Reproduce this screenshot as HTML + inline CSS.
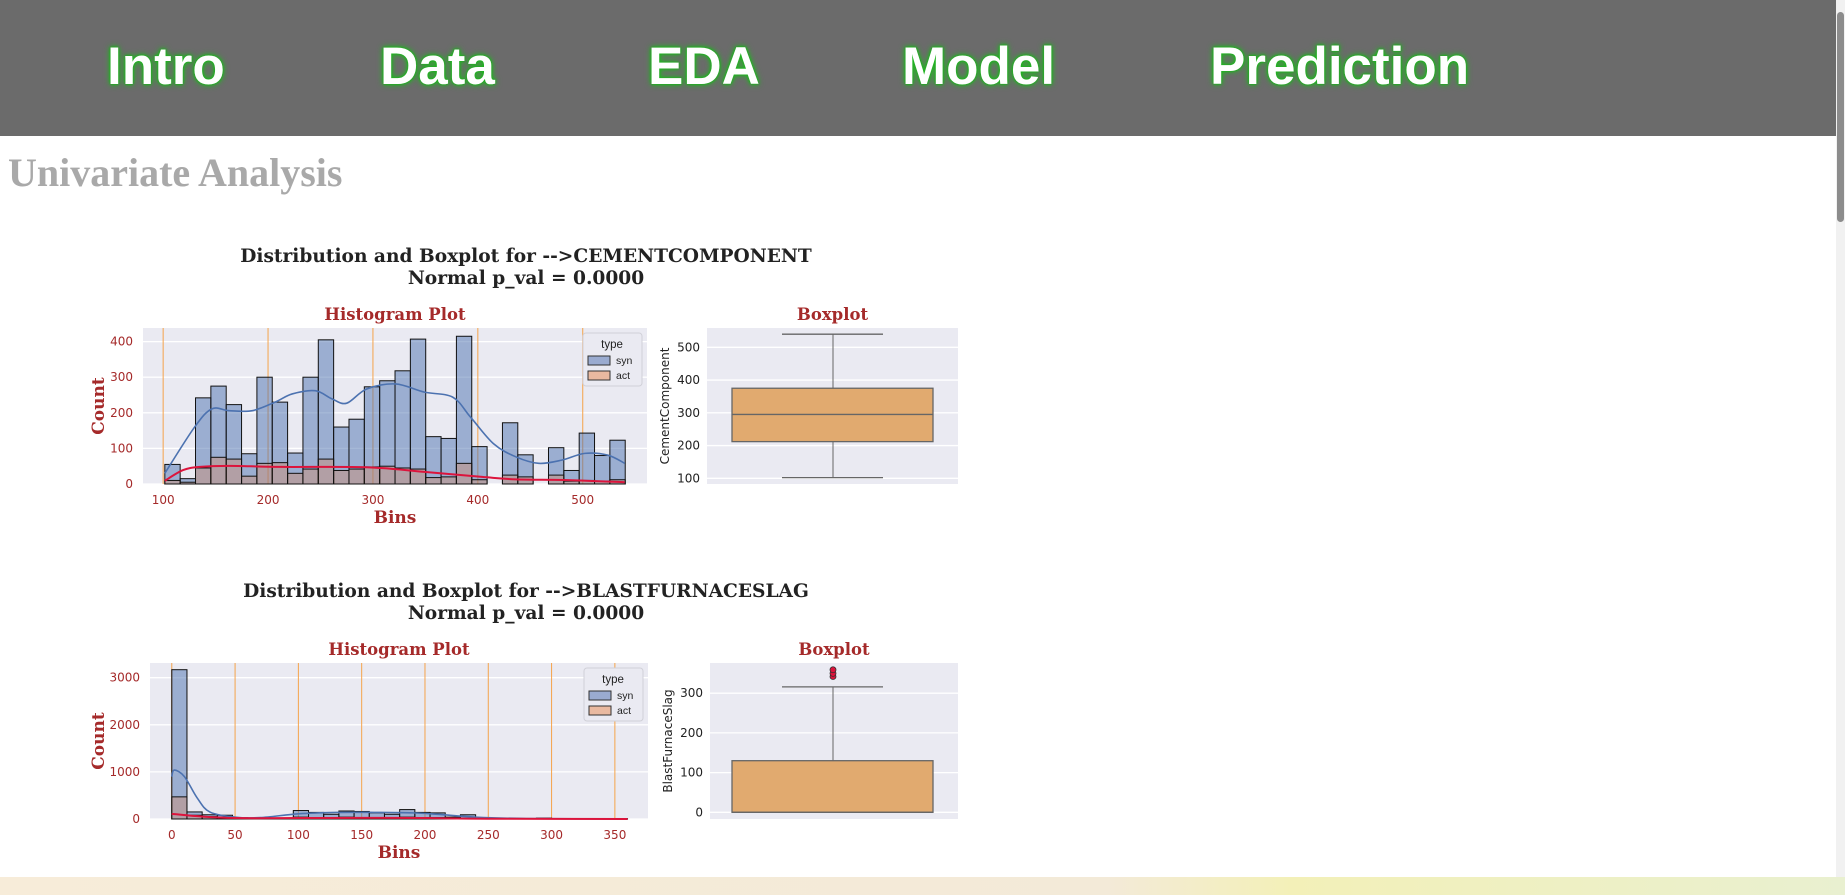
<!DOCTYPE html>
<html><head><meta charset="utf-8"><style>
html,body{margin:0;padding:0;width:1845px;height:895px;overflow:hidden;background:#fff;font-family:"Liberation Sans",sans-serif}
#hdr{position:absolute;left:0;top:0;width:1836px;height:136px;background:#6b6b6b}
.nav{position:absolute;top:36px;font:bold 53px "Liberation Sans",sans-serif;color:#fff;text-shadow:0 0 4px #1db31d,0 0 7px #22c022,0 0 2px #0a0;cursor:pointer}
#title{position:absolute;left:8px;top:149px;font:bold 40px "Liberation Serif",serif;color:#a9a9a9}
#sb{position:absolute;left:1836px;top:0;width:9px;height:877px;background:#f1f1f1}
#bb{position:absolute;left:0;top:877px;width:1845px;height:18px;background:linear-gradient(90deg,#f7ecd9,#f3ead8 60%,#f3f0b8 70%,#e9f0d0)}
svg{position:absolute;left:0;top:0}
</style></head><body>
<div id="hdr">
<span class="nav" style="left:107px">Intro</span>
<span class="nav" style="left:380px">Data</span>
<span class="nav" style="left:648px">EDA</span>
<span class="nav" style="left:902px">Model</span>
<span class="nav" style="left:1210px">Prediction</span>
</div>
<div id="title">Univariate Analysis</div>
<div id="sb"><div style="position:absolute;left:1px;top:12px;width:7px;height:210px;background:#8c8c8c;border-radius:4px"></div></div>
<div id="bb"></div>
<svg id="c" width="1845" height="895"></svg>
<script>
// Chart 1: Cement
const cemBinStart = 101.6, cemBinWidth = 14.63;
const cemSyn = [55,15,242,275,223,85,300,230,87,300,405,160,182,273,290,318,407,133,128,415,105,0,172,82,0,102,38,143,80,123];
const cemAct = [10,5,45,75,70,22,58,60,30,42,70,38,42,48,50,45,42,18,20,58,12,0,25,20,0,25,8,10,8,12];
const cemKdeX = [101.6,130,146.5,163,185,206.7,223,245,261,275,294,321.6,349,376,393,415,436.5,458,480,502,524,540];
const cemKdeSyn = [30,160,211,206,206,230,253,262,239,227,267,281,258,244,188,113,76,58,67,86,81,58];
const cemActX = [101.6,119,135,163,212,294,349,404,436.5,486,540];
const cemKdeAct = [9,39,48,51,48,47,34,20,13,11,5];
const cemXTicks = [100,200,300,400,500];
const cemYTicks = [0,100,200,300,400];
const cemBoxTicks = [100,200,300,400,500];
const cemBox = {q1:212,med:295,q3:375,lo:102,hi:540};
const cemOut = [];
// Chart 2: Slag
const slagBinStart = 0, slagBinWidth = 12.0;
const slagSyn = [3170,150,90,80,30,15,10,20,180,140,100,170,160,130,100,200,140,130,40,90,10,5,5,5,20,5,5,0,0,5];
const slagAct = [470,80,50,40,20,10,5,10,40,30,30,40,30,30,20,40,30,30,10,15,0,0,0,0,5,0,0,0,0,0];
const slagKdeX = [0,2,10,20,30,50,70,100,130,160,190,210,240,280,360];
const slagKdeSyn = [900,1040,900,450,150,40,30,110,140,140,130,100,40,10,0];
const slagActX = [0,20,50,100,150,200,250,360];
const slagKdeAct = [110,60,20,20,25,20,5,0];
const slagXTicks = [0,50,100,150,200,250,300,350];
const slagYTicks = [0,1000,2000,3000];
const slagBoxTicks = [0,100,200,300];
const slagBox = {q1:0,med:0,q3:130,lo:0,hi:316};
const slagOut = [342,350,359];

const NS='http://www.w3.org/2000/svg', svg=document.getElementById('c');
function mk(t,a,p){const e=document.createElementNS(NS,t);for(const k in a)e.setAttribute(k,a[k]);(p||svg).appendChild(e);return e;}
function txt(s,a,p){const e=mk('text',a,p);e.textContent=s;return e;}
function smooth(pts){let d='M'+pts[0][0]+','+pts[0][1];
  for(let i=0;i<pts.length-1;i++){const p0=pts[Math.max(0,i-1)],p1=pts[i],p2=pts[i+1],p3=pts[Math.min(pts.length-1,i+2)];
    const c1=[p1[0]+(p2[0]-p0[0])/6,p1[1]+(p2[1]-p0[1])/6],c2=[p2[0]-(p3[0]-p1[0])/6,p2[1]-(p3[1]-p1[1])/6];
    d+=` C${c1[0]},${c1[1]} ${c2[0]},${c2[1]} ${p2[0]},${p2[1]}`;}return d;}
const brown='#a52a2a';
function chart(o){
  const g=mk('g',{});
  
  
  const sx=v=>o.ax0+(v-o.xv0)*o.xs, sy=v=>o.ay1-v*o.ys;
  const t1=txt(o.title,{x:526,y:o.ty,'text-anchor':'middle','font-family':'DejaVu Serif,serif','font-weight':'bold','font-size':18.6,fill:'#222'},g);
  
  txt('Normal p_val = 0.0000',{x:526,y:o.ty+22,'text-anchor':'middle','font-family':'DejaVu Serif,serif','font-weight':'bold','font-size':18.6,fill:'#222'},g);
  const ht=txt('Histogram Plot',{x:(o.ax0+o.ax1)/2,y:o.ay0-8,'text-anchor':'middle','font-family':'DejaVu Serif,serif','font-weight':'bold','font-size':16.5,fill:brown},g);
  
  const bg=mk('rect',{x:o.ax0,y:o.ay0,width:o.ax1-o.ax0,height:o.ay1-o.ay0,fill:'#eaeaf2'},g);
  
  o.yt.forEach(v=>{mk('line',{x1:o.ax0,x2:o.ax1,y1:sy(v),y2:sy(v),stroke:'#fff','stroke-width':1.3},g);
    txt(String(v),{x:o.ax0-10,y:sy(v)+4,'text-anchor':'end','font-size':12,fill:brown,'font-family':'DejaVu Sans,sans-serif'},g);});
  o.xt.forEach(v=>{mk('line',{x1:sx(v),x2:sx(v),y1:o.ay0,y2:o.ay1,stroke:'#f5a34a','stroke-width':1},g);
    txt(String(v),{x:sx(v),y:o.ay1+20,'text-anchor':'middle','font-size':12,fill:brown,'font-family':'DejaVu Sans,sans-serif'},g);});
  o.syn.forEach((v,i)=>{if(!v)return;const x=sx(o.b0+i*o.bw),w=o.bw*o.xs;
    const r=mk('rect',{x:x,y:sy(v),width:w,height:v*o.ys,fill:'rgba(76,114,176,0.5)',stroke:'#111','stroke-width':1},g);
    });
  o.act.forEach((v,i)=>{if(!v)return;const x=sx(o.b0+i*o.bw),w=o.bw*o.xs;
    const r=mk('rect',{x:x,y:sy(v),width:w,height:v*o.ys,fill:'rgba(221,132,82,0.35)',stroke:'#111','stroke-width':1},g);
    });
  const l1=mk('path',{d:smooth(o.kx.map((x,i)=>[sx(x),sy(o.ks[i])])),fill:'none',stroke:'#4c72b0','stroke-width':1.6},g);
  
  const l2=mk('path',{d:smooth(o.kax.map((x,i)=>[sx(x),sy(o.ka[i])])),fill:'none',stroke:'#dc143c','stroke-width':2},g);
  
  // legend
  const lg=mk('g',{},g);
  const lx=o.ax1-64,ly=o.ay0+5;
  mk('rect',{x:lx,y:ly,width:59,height:53,rx:3,fill:'#eaeaf2',stroke:'#d0d0d8'},lg);
  txt('type',{x:lx+29,y:ly+15,'text-anchor':'middle','font-size':11.5,fill:'#222'},lg);
  mk('rect',{x:lx+5,y:ly+23,width:22,height:9,fill:'#9aabd0',stroke:'#333'},lg);
  txt('syn',{x:lx+33,y:ly+31,'font-size':10.5,fill:'#222'},lg);
  mk('rect',{x:lx+5,y:ly+38,width:22,height:9,fill:'#e9b9a0',stroke:'#333'},lg);
  txt('act',{x:lx+33,y:ly+46,'font-size':10.5,fill:'#222'},lg);
  txt('Count',{transform:`translate(104,${(o.ay0+o.ay1)/2}) rotate(-90)`,'text-anchor':'middle','font-family':'DejaVu Serif,serif','font-weight':'bold','font-size':17,fill:brown},g);
  txt('Bins',{x:(o.ax0+o.ax1)/2,y:o.ay1+39,'text-anchor':'middle','font-family':'DejaVu Serif,serif','font-weight':'bold','font-size':17,fill:brown},g);
  // boxplot
  const bx0=o.bx0,bx1=958,by=v=>o.bz-(v)*o.bs;
  const bt=txt('Boxplot',{x:(bx0+bx1)/2,y:o.ay0-8,'text-anchor':'middle','font-family':'DejaVu Serif,serif','font-weight':'bold','font-size':16.5,fill:brown},g);
  
  mk('rect',{x:bx0,y:o.ay0,width:bx1-bx0,height:o.ay1-o.ay0,fill:'#eaeaf2'},g);
  o.bt.forEach(v=>{mk('line',{x1:bx0,x2:bx1,y1:by(v),y2:by(v),stroke:'#fff','stroke-width':1.3},g);
    txt(String(v),{x:bx0-7,y:by(v)+4,'text-anchor':'end','font-size':12,fill:'#222','font-family':'DejaVu Sans,sans-serif'},g);});
  txt(o.ylab,{transform:`translate(${bx0-38},${(o.ay0+o.ay1)/2}) rotate(-90)`,'text-anchor':'middle','font-size':12,fill:'#222','font-family':'DejaVu Sans,sans-serif'},g);
  const B=o.box,cx=833;
  mk('line',{x1:cx,x2:cx,y1:by(B.hi),y2:by(B.q3),stroke:'#666','stroke-width':1},g);
  mk('line',{x1:cx,x2:cx,y1:by(B.q1),y2:by(B.lo),stroke:'#666','stroke-width':1},g);
  mk('line',{x1:782,x2:883,y1:by(B.hi),y2:by(B.hi),stroke:'#666','stroke-width':1.3},g);
  mk('line',{x1:782,x2:883,y1:by(B.lo),y2:by(B.lo),stroke:'#666','stroke-width':1.3},g);
  const bb=mk('rect',{x:732,y:by(B.q3),width:201,height:(B.q3-B.q1)*o.bs,fill:'#e1aa6f',stroke:'#666','stroke-width':1.3},g);
  
  mk('line',{x1:732,x2:933,y1:by(B.med),y2:by(B.med),stroke:'#666','stroke-width':1.3},g);
  o.out.forEach(v=>{const c=mk('circle',{cx:cx,cy:by(v),r:3,fill:'#dc143c',stroke:'#333','stroke-width':0.8},g);
    });
}
chart({name:'cement-chart',title:'Distribution and Boxplot for -->CEMENTCOMPONENT',ty:262,ax0:143,ax1:647,ay0:328,ay1:484,xv0:80.8,xs:1.049,ys:0.356,
  b0:cemBinStart,bw:cemBinWidth,syn:cemSyn,act:cemAct,kx:cemKdeX,ks:cemKdeSyn,kax:cemActX,ka:cemKdeAct,xt:cemXTicks,yt:cemYTicks,
  bx0:707,bz:478.3+32.75,bs:0.3275,bt:cemBoxTicks,ylab:'CementComponent',box:cemBox,out:cemOut});
chart({name:'slag-chart',title:'Distribution and Boxplot for -->BLASTFURNACESLAG',ty:597,ax0:150,ax1:648,ay0:663,ay1:819,xv0:-17.2,xs:1.266,ys:0.0471,
  b0:slagBinStart,bw:slagBinWidth,syn:slagSyn,act:slagAct,kx:slagKdeX,ks:slagKdeSyn,kax:slagActX,ka:slagKdeAct,xt:slagXTicks,yt:slagYTicks,
  bx0:710,bz:812.3,bs:0.397,bt:slagBoxTicks,ylab:'BlastFurnaceSlag',box:slagBox,out:slagOut});
</script>
</body></html>
